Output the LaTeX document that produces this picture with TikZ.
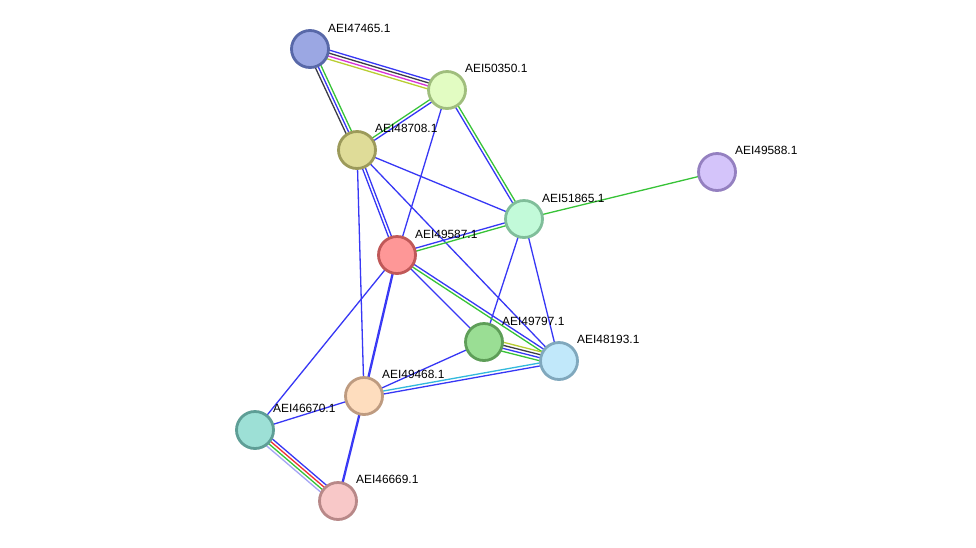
\documentclass[tikz,border=0pt]{standalone}
\usepackage{fontspec}
\setmainfont{Liberation Sans}
\usetikzlibrary{calc}
\pgfdeclarelayer{bgfill}
\pgfdeclarelayer{edges}
\pgfsetlayers{bgfill,edges,main}
\definecolor{eblue}{RGB}{55,55,245}
\definecolor{egreen}{RGB}{55,195,55}
\definecolor{egray}{RGB}{60,60,70}
\definecolor{emag}{RGB}{215,50,215}
\definecolor{eyel}{RGB}{185,205,50}
\definecolor{ered}{RGB}{240,50,50}
\definecolor{ecyan}{RGB}{50,185,220}
\definecolor{elav}{RGB}{165,165,245}
\tikzset{
  prot/.style={circle, minimum size=37pt, inner sep=0pt, line width=2.8pt},
  lbl/.style={anchor=base west, inner sep=0pt, font=\fontsize{11.9}{13}\selectfont},
  edge/.style={line width=1.3pt},
}
\newcommand{\multiedge}[3]{%
  \foreach \c/\o in {#3} {
    \draw[edge,\c] ($(#1.center)!\o pt!90:(#2.center)$) -- ($(#2.center)!\o pt!-90:(#1.center)$);
  }%
}
\begin{document}
\begin{tikzpicture}[x=1pt,y=-1pt]
\begin{pgfonlayer}{bgfill}
\fill[white] (0,0) rectangle (976,547);
\end{pgfonlayer}
\useasboundingbox (0,0) rectangle (976,547);

\node[prot, fill={rgb,255:red,155;green,167;blue,227}, draw={rgb,255:red,88;green,104;blue,168}] (n47465) at (310,49) {};
\node[prot, fill={rgb,255:red,226;green,252;blue,194}, draw={rgb,255:red,160;green,190;blue,125}] (n50350) at (447,90) {};
\node[prot, fill={rgb,255:red,223;green,220;blue,152}, draw={rgb,255:red,156;green,154;blue,90}] (n48708) at (357,150) {};
\node[prot, fill={rgb,255:red,212;green,196;blue,250}, draw={rgb,255:red,148;green,128;blue,192}] (n49588) at (717,172) {};
\node[prot, fill={rgb,255:red,194;green,250;blue,217}, draw={rgb,255:red,128;green,190;blue,154}] (n51865) at (524,219) {};
\node[prot, fill={rgb,255:red,254;green,151;blue,151}, draw={rgb,255:red,192;green,88;blue,88}] (n49587) at (397,255) {};
\node[prot, fill={rgb,255:red,154;green,222;blue,148}, draw={rgb,255:red,94;green,158;blue,88}] (n49797) at (484,342) {};
\node[prot, fill={rgb,255:red,193;green,232;blue,250}, draw={rgb,255:red,128;green,168;blue,189}] (n48193) at (559,361) {};
\node[prot, fill={rgb,255:red,254;green,221;blue,190}, draw={rgb,255:red,190;green,155;blue,128}] (n49468) at (364,396) {};
\node[prot, fill={rgb,255:red,157;green,224;blue,214}, draw={rgb,255:red,94;green,158;blue,150}] (n46670) at (255,430) {};
\node[prot, fill={rgb,255:red,248;green,200;blue,200}, draw={rgb,255:red,184;green,136;blue,136}] (n46669) at (338,501) {};

\node[lbl] (l47465) at ($(n47465.center)+(18,-17)$) {AEI47465.1};
\node[lbl] (l50350) at ($(n50350.center)+(18,-18)$) {AEI50350.1};
\node[lbl] (l48708) at ($(n48708.center)+(18,-18)$) {AEI48708.1};
\node[lbl] (l49588) at ($(n49588.center)+(18,-18)$) {AEI49588.1};
\node[lbl] (l51865) at ($(n51865.center)+(18,-17)$) {AEI51865.1};
\node[lbl] (l49587) at ($(n49587.center)+(18,-17)$) {AEI49587.1};
\node[lbl] (l49797) at ($(n49797.center)+(18,-17)$) {AEI49797.1};
\node[lbl] (l48193) at ($(n48193.center)+(18,-18)$) {AEI48193.1};
\node[lbl] (l49468) at ($(n49468.center)+(18,-18)$) {AEI49468.1};
\node[lbl] (l46670) at ($(n46670.center)+(18,-18)$) {AEI46670.1};
\node[lbl] (l46669) at ($(n46669.center)+(18,-18)$) {AEI46669.1};

\begin{pgfonlayer}{edges}
\multiedge{n47465}{n50350}{eblue/4.5, egray/1.5, emag/-1.5, eyel/-4.5}
\multiedge{n47465}{n48708}{egray/-3, eblue/0, egreen/3}
\multiedge{n50350}{n48708}{egreen/-1.5, eblue/1.5}
\multiedge{n50350}{n51865}{eblue/-1.5, egreen/1.5}
\multiedge{n50350}{n49587}{eblue/0}
\multiedge{n48708}{n51865}{eblue/0}
\multiedge{n48708}{n49587}{eblue/1.5, eblue/-1.5}
\multiedge{n48708}{n48193}{eblue/0}
\multiedge{n48708}{n49468}{eblue/0}
\multiedge{n49587}{n51865}{eblue/1.5, egreen/-1.5}
\multiedge{n51865}{n49588}{egreen/0}
\multiedge{n51865}{n49797}{eblue/0}
\multiedge{n51865}{n48193}{eblue/0}
\multiedge{n49587}{n48193}{eblue/1.5, egreen/-1.5}
\multiedge{n49587}{n49797}{eblue/0}
\multiedge{n49587}{n49468}{eblue/0.5, eblue/-0.5}
\multiedge{n49587}{n46670}{eblue/0}
\multiedge{n49797}{n48193}{eyel/4.5, egray/1.5, eblue/-1.5, egreen/-4.5}
\multiedge{n49797}{n49468}{eblue/0}
\multiedge{n48193}{n49468}{ecyan/-1.5, eblue/1.5}
\multiedge{n49468}{n46670}{eblue/0}
\multiedge{n49468}{n46669}{eblue/0.5, eblue/-0.5}
\multiedge{n46670}{n46669}{eblue/4.5, ered/1.5, egreen/-1.5, elav/-4.5}
\end{pgfonlayer}
\end{tikzpicture}
\end{document}
